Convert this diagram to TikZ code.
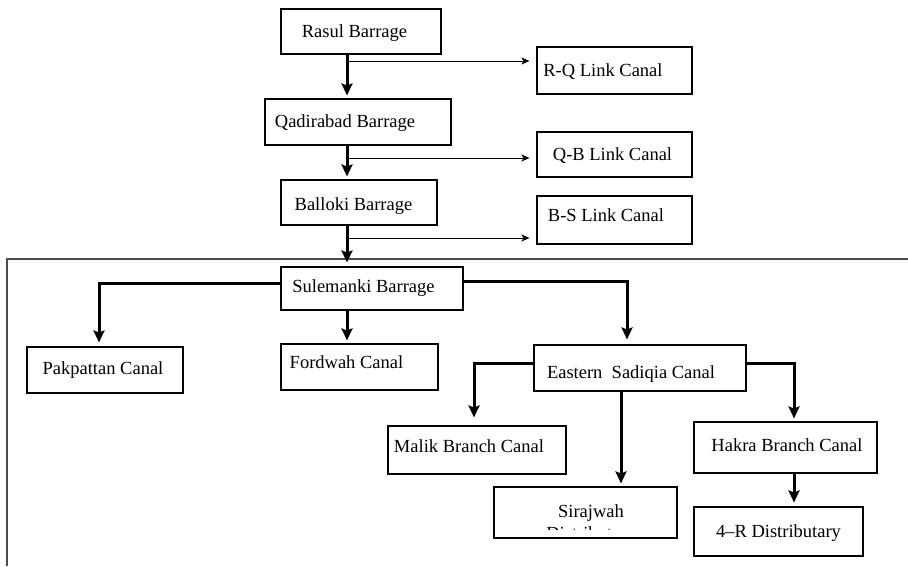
\documentclass[tikz,border=0pt]{standalone}
\usepackage{fontspec}
\setmainfont{Liberation Serif}
\usetikzlibrary{arrows.meta}
% shift a box text by #1 (right) and #2 (down), in pt
\newcommand\boxtext[3]{\hspace*{#1pt}\raisebox{-#2pt}{#3}\hspace*{-#1pt}}

\begin{document}
\begin{tikzpicture}[x=1pt,y=-1pt,
		box/.style={draw,line width=1.1pt,inner sep=0pt,text height=13pt,text depth=4pt,font=\fontsize{18.5}{22}\selectfont},
		flow/.style={line width=3pt,-{Stealth[length=12pt,width=11pt,inset=2pt]},shorten >=3pt},
		link/.style={line width=1pt,-{Stealth[length=8pt,width=7pt,inset=2pt]},shorten >=7pt}]
		\useasboundingbox (0,0) rectangle (908,566);
		\draw[gray!60!black,line width=1.6pt] (7,566) -- (7,259) -- (908,259);
		\foreach \n/\x/\y/\w/\h/\dx/\dy/\t in {rasul/361/31.5/160/45/-6.5/1.5/Rasul Barrage,
			rq/614.5/70.5/155/47/-11.5/1/R-Q Link Canal,
			qadir/358/122/186/46/-13/1/Qadirabad Barrage,
			qb/614.5/154.5/155/45/-2/1/Q-B Link Canal,
			balloki/359/202.5/156/45/-5.5/3/Balloki Barrage,
			bs/614.5/220/155/48/-8.5/-3/B-S Link Canal,
			suleman/372/288.5/182/43/-8.5/-1/Sulemanki Barrage,
			pak/105/370/156/46/-2/0/Pakpattan Canal,
			ford/359.5/367/157/46/-13/-3/Fordwah Canal,
			eastern/640/368/212/46/-9/6/Eastern\ \ Sadiqia Canal,
			malik/477/450/178/48/-8/-2/Malik Branch Canal,
			hakra/785.5/447.5/183/51/1.5/-1/Hakra Branch Canal,
			fourr/778.5/531.5/169/49/0/1/4--R Distributary}{
			\node[box,minimum width=\w pt,minimum height=\h pt] (\n) at (\x,\y) {\boxtext{\dx}{\dy}{\t}};
		}
		\node[box,minimum width=183pt,minimum height=51pt] (siraj) at (585.5,512.5) {};
		\begin{scope}
			\clip (siraj.north west) rectangle (siraj.east |- 0,529);
			\node[font=\fontsize{18.5}{22}\selectfont,inner sep=0pt,anchor=north,align=center] (sirajtxt) at (591,504) {Sirajwah\\Distributary};
		\end{scope}
		\coordinate (spine) at (347,0);
		\draw[flow] (rasul.south -| spine) -- (qadir.north -| spine);
		\draw[flow] (qadir.south -| spine) -- (balloki.north -| spine);
		\draw[flow,shorten >=4pt] (balloki.south -| spine) -- (suleman.north -| spine);
		\foreach \b/\y in {rq/61,qb/158,bs/238}{
			\draw[link] (spine |- 0,\y) -- (\b.west |- 0,\y);
		}
		\draw[flow,shorten >=4pt] (suleman.west |- 0,283) -| ([xshift=-6pt]pak.north);
		\draw[flow] (suleman.south -| spine) -- (ford.north -| spine);
		\draw[flow,shorten >=5pt] (suleman.east |- 0,281) -| (eastern.north -| 627,0);
		\draw[flow,shorten >=8pt] (eastern.west |- 0,363) -| (malik.north -| 474,0);
		\draw[flow] (eastern.south -| 621,0) -- (siraj.north -| 621,0);
		\draw[flow] (eastern.east |- 0,363) -| (hakra.north -| 794,0);
		\draw[flow,shorten >=4pt] (hakra.south -| 794,0) -- (fourr.north -| 794,0);
	\end{tikzpicture}
\end{document}
